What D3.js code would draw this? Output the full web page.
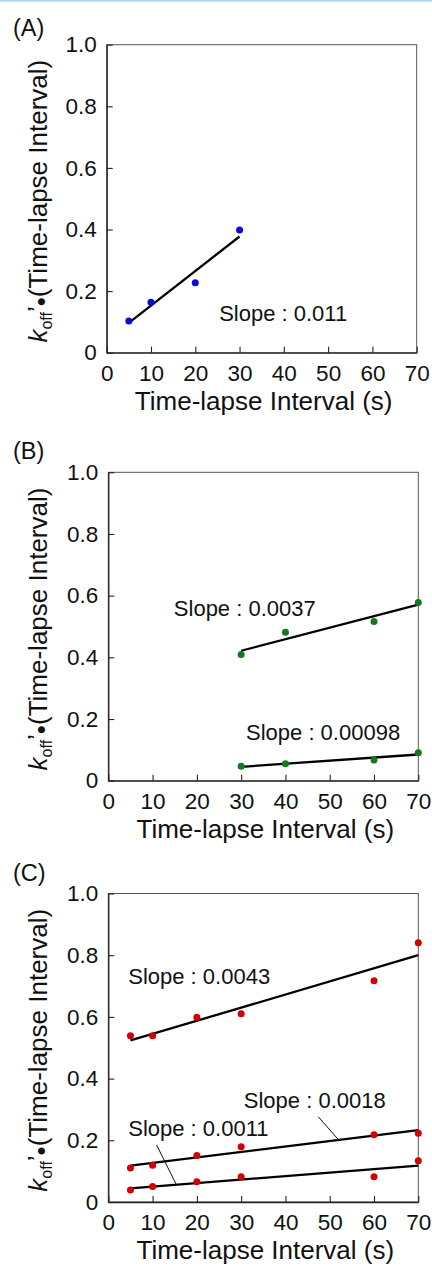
<!DOCTYPE html>
<html>
<head>
<meta charset="utf-8">
<script src="https://cdn.jsdelivr.net/npm/d3@7"></script>
<style>
  html, body { margin: 0; padding: 0; background: #fff; }
  svg { display: block; font-family: "Liberation Sans", Arial, Helvetica, sans-serif; }
</style>
</head>
<body>
<svg id="chart" width="432" height="1266"></svg>
<script>
// ---------- DATA ----------
const xTicks = [0, 10, 20, 30, 40, 50, 60, 70];
const yTicks = [0, 0.2, 0.4, 0.6, 0.8, 1.0];
const yTickLabels = ["0", "0.2", "0.4", "0.6", "0.8", "1.0"];
const panelLabels = ["(A)", "(B)", "(C)"];
const xTitle = "Time-lapse Interval (s)";

// Panel A (blue)
const aX = [5, 10, 20, 30];
const aY = [0.103, 0.164, 0.227, 0.398];

// Panel B (green)
const bX = [30, 40, 60, 70];
const bUpperY = [0.409, 0.481, 0.516, 0.578];
const bLowerY = [0.047, 0.055, 0.067, 0.091];

// Panel C (red)
const cX = [5, 10, 20, 30, 60, 70];
const cUpperY = [0.539, 0.539, 0.599, 0.610, 0.717, 0.840];
const cMiddleY = [0.110, 0.119, 0.151, 0.179, 0.218, 0.223];
const cLowerY = [0.039, 0.050, 0.066, 0.082, 0.082, 0.134];

// Slope annotations: text, anchor (data units)
const slopeLabelsA = [{ text: "Slope : 0.011", x: 25.4, y: 0.103 }];
const slopeLabelsB = [
  { text: "Slope : 0.0037", x: 14.8, y: 0.534 },
  { text: "Slope : 0.00098", x: 31.1, y: 0.132 }
];
const slopeLabelsC = [
  { text: "Slope : 0.0043", x: 4.5, y: 0.707 },
  { text: "Slope : 0.0018", x: 30.6, y: 0.306, leader: [[47.4, 0.2765], [51.9, 0.203]] },
  { text: "Slope : 0.0011", x: 4.5, y: 0.215, leader: [[10.9, 0.185], [15.4, 0.055]] }
];

// ---------- LAYOUT ----------
const panels = [
  { label: panelLabels[0], labelY: 36, left: 106.7, right: 416.7, top: 44.7, bottom: 352.7,
    color: "#0a0ad8", series: [{ x: aX, y: aY }], notes: slopeLabelsA },
  { label: panelLabels[1], labelY: 459, left: 108.3, right: 418.3, top: 472.3, bottom: 780.7,
    color: "#17771f", series: [{ x: bX, y: bUpperY }, { x: bX, y: bLowerY }], notes: slopeLabelsB },
  { label: panelLabels[2], labelY: 881, left: 108.3, right: 418.3, top: 893.5, bottom: 1202,
    color: "#d40000", series: [{ x: cX, y: cUpperY }, { x: cX, y: cMiddleY }, { x: cX, y: cLowerY }], notes: slopeLabelsC }
];

function fit(xs, ys) {
  const n = xs.length;
  const mx = d3.mean(xs), my = d3.mean(ys);
  let sxx = 0, sxy = 0;
  for (let i = 0; i < n; i++) { sxx += (xs[i] - mx) ** 2; sxy += (xs[i] - mx) * (ys[i] - my); }
  const m = sxy / sxx;
  return { m, b: my - m * mx };
}

const svg = d3.select("#chart");

// top light-blue rule
svg.append("rect").attr("x", 0).attr("y", 0).attr("width", 432).attr("height", 1.6).attr("fill", "#a9d3ee");

panels.forEach(p => {
  const x = d3.scaleLinear().domain([0, 70]).range([p.left, p.right]);
  const y = d3.scaleLinear().domain([0, 1]).range([p.bottom, p.top]);
  const g = svg.append("g");

  // panel label
  g.append("text").attr("x", 13).attr("y", p.labelY).attr("font-size", 23.5).attr("fill", "#111").text(p.label);

  // frame
  g.append("rect").attr("x", p.left).attr("y", p.top)
    .attr("width", p.right - p.left).attr("height", p.bottom - p.top)
    .attr("fill", "none").attr("stroke", "#555").attr("stroke-width", 1);

  // x axis
  const xa = g.append("g").attr("transform", `translate(0,${p.bottom})`)
    .call(d3.axisBottom(x).tickValues(xTicks).tickFormat(d3.format("d")).tickSizeInner(-6).tickSizeOuter(0).tickPadding(12));
  xa.attr("font-family", null).attr("font-size", null);
  xa.select(".domain").attr("stroke", "#222").attr("stroke-width", 1.3);
  xa.selectAll(".tick line").attr("stroke", "#222").attr("stroke-width", 1.1);
  xa.selectAll(".tick text").attr("font-size", 22.5).attr("fill", "#111");

  // y axis
  const ya = g.append("g").attr("transform", `translate(${p.left},0)`)
    .call(d3.axisLeft(y).tickValues(yTicks).tickFormat((d, i) => yTickLabels[i]).tickSizeInner(-6).tickSizeOuter(0).tickPadding(10));
  ya.attr("font-family", null).attr("font-size", null);
  ya.select(".domain").attr("stroke", "#222").attr("stroke-width", 1.3);
  ya.selectAll(".tick line").attr("stroke", "#222").attr("stroke-width", 1.1);
  ya.selectAll(".tick text").attr("font-size", 22.5).attr("fill", "#111");

  // x title
  g.append("text").attr("x", (p.left + p.right) / 2 + 2).attr("y", p.bottom + 57)
    .attr("text-anchor", "middle").attr("font-size", 26).attr("fill", "#111").text(xTitle);

  // y title
  const yt = g.append("text")
    .attr("transform", `translate(47,${(p.top + p.bottom) / 2 + 2.5}) rotate(-90)`)
    .attr("text-anchor", "middle").attr("font-size", 26).attr("fill", "#111");
  yt.append("tspan").attr("font-style", "italic").text("k");
  yt.append("tspan").attr("font-size", 16).attr("dy", 5).text("off");
  yt.append("tspan").attr("dy", -6).text("’");
  yt.append("tspan").attr("dy", 4).text("•");
  yt.append("tspan").attr("dy", -3).text("(Time-lapse Interval)");

  // fit lines (least squares through each series)
  p.series.forEach(s => {
    const f = fit(s.x, s.y);
    const x0 = d3.min(s.x), x1 = d3.max(s.x);
    g.append("line")
      .attr("x1", x(x0)).attr("y1", y(f.m * x0 + f.b))
      .attr("x2", x(x1)).attr("y2", y(f.m * x1 + f.b))
      .attr("stroke", "#000").attr("stroke-width", 2.3);
  });

  // points
  p.series.forEach(s => {
    g.selectAll(null).data(s.x.map((v, i) => [v, s.y[i]])).enter()
      .append("circle").attr("cx", d => x(d[0])).attr("cy", d => y(d[1]))
      .attr("r", 3.5).attr("fill", p.color);
  });

  // annotations
  p.notes.forEach(n => {
    g.append("text").attr("x", x(n.x)).attr("y", y(n.y))
      .attr("font-size", 22).attr("fill", "#111").text(n.text);
    if (n.leader) {
      g.append("line")
        .attr("x1", x(n.leader[0][0])).attr("y1", y(n.leader[0][1]))
        .attr("x2", x(n.leader[1][0])).attr("y2", y(n.leader[1][1]))
        .attr("stroke", "#111").attr("stroke-width", 1);
    }
  });
});
</script>
</body>
</html>
